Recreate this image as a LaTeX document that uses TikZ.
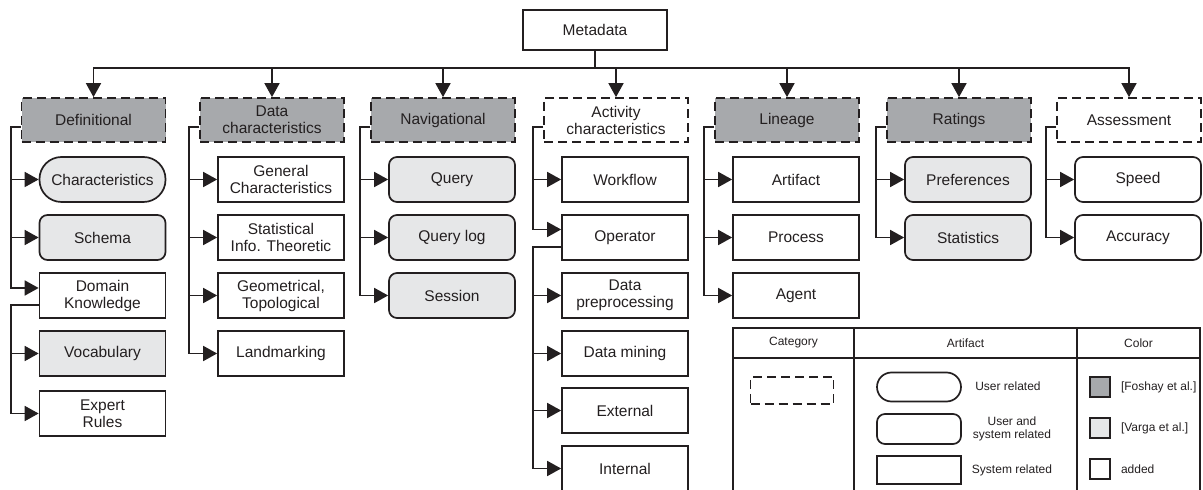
\documentclass[tikz,border=0pt]{standalone}
\usepackage{fontspec}
\setmainfont{Liberation Sans}
\usetikzlibrary{positioning,arrows.meta}
\definecolor{ink}{HTML}{231F20}
\definecolor{foshay}{HTML}{A7A9AC}
\definecolor{varga}{HTML}{E6E7E8}

\begin{document}
\begin{tikzpicture}[color=ink, line width=1.7pt, >={Triangle[length=14pt,width=15pt]},
  every node/.style={align=center,font=\fontsize{15.5}{17}\selectfont},
  box/.style={draw=ink,minimum width=126pt,minimum height=45pt,inner sep=2pt},
  catbox/.style={box,dash pattern=on 9pt off 5pt,minimum width=144pt,minimum height=44pt},
  userbox/.style={box,rounded corners=22pt},
  mixbox/.style={box,rounded corners=8pt},
  small/.style={font=\fontsize{12}{13.5}\selectfont}]
\useasboundingbox (0,0) rectangle (1203pt,490pt);
\clip (0,0) rectangle (1203pt,490pt);

\node[box,minimum width=144pt,minimum height=40pt] (meta) at (595pt,460pt) {Metadata};
\node[catbox,fill=foshay] (defn) at (93.5pt,370pt) {Definitional};
\node[catbox,fill=foshay,right=32.8pt of defn] (datach) {Data\\characteristics};
\node[catbox,fill=foshay,right=25.3pt of datach] (nav) {Navigational};
\node[catbox,right=27.3pt of nav] (activity) {Activity\\characteristics};
\node[catbox,fill=foshay,right=25.3pt of activity] (lineage) {Lineage};
\node[catbox,fill=foshay,right=26.3pt of lineage] (ratings) {Ratings};
\node[catbox,right=24.3pt of ratings] (assess) {Assessment};

\node[userbox,fill=varga,below left=13.3pt and 0pt of defn.south east] (charac) {Characteristics};
\node[mixbox,fill=varga,below=11.3pt of charac] (schema) {Schema};
\node[box,below=11.3pt of schema] (domain) {Domain\\Knowledge};
\node[box,fill=varga,below=11.3pt of domain] (vocab) {Vocabulary};
\node[box,below=13.3pt of vocab] (expert) {Expert\\Rules};

\node[box,below left=13.3pt and 0pt of datach.south east] (general) {General\\Characteristics};
\node[box,below=11.3pt of general] (statinfo) {Statistical\\Info. Theoretic};
\node[box,below=11.3pt of statinfo] (geom) {Geometrical,\\Topological};
\node[box,below=11.3pt of geom] (landmark) {Landmarking};

\node[mixbox,fill=varga,below left=13.3pt and 0pt of nav.south east] (query) {Query};
\node[mixbox,fill=varga,below=11.3pt of query] (qlog) {Query log};
\node[mixbox,fill=varga,below=11.3pt of qlog] (session) {Session};

\node[box,below left=13.3pt and 0pt of activity.south east] (workflow) {Workflow};
\node[box,below=11.3pt of workflow] (operator) {Operator};
\node[box,below=11.3pt of operator] (dataprep) {Data\\preprocessing};
\node[box,below=11.3pt of dataprep] (datamin) {Data mining};
\node[box,below=10.3pt of datamin] (external) {External};
\node[box,below=11.3pt of external] (internal) {Internal};

\node[box,below left=13.3pt and 0pt of lineage.south east] (artifact) {Artifact};
\node[box,below=11.3pt of artifact] (process) {Process};
\node[box,below=11.3pt of process] (agent) {Agent};

\node[mixbox,fill=varga,below left=13.3pt and 0pt of ratings.south east] (prefs) {Preferences};
\node[mixbox,fill=varga,below=11.3pt of prefs] (stats) {Statistics};

\node[mixbox,below left=13.3pt and 0pt of assess.south east] (speed) {Speed};
\node[mixbox,below=11.3pt of speed] (accuracy) {Accuracy};

\draw (meta.south) -- ++(0,-17pt) coordinate (bus);
\foreach \c in {defn,datach,nav,activity,lineage,ratings,assess} \draw[->] (bus) -| (\c.north);

\foreach \k in {charac,schema} \draw[->] ([yshift=-7pt]defn.west) -- ++(-10pt,0) |- (\k);
\draw[->] ([yshift=-7pt]defn.west) -- ++(-10pt,0) |- ([yshift=7.5pt]domain.west);
\foreach \k in {vocab,expert} \draw[->] ([yshift=-9.5pt]domain.west) -- ++(-28pt,0) |- (\k);
\foreach \k in {general,statinfo,geom,landmark} \draw[->] ([yshift=-7pt]datach.west) -- ++(-10pt,0) |- (\k);
\foreach \k in {query,qlog,session} \draw[->] ([yshift=-7pt]nav.west) -- ++(-10pt,0) |- (\k);
\draw[->] ([yshift=-7pt]activity.west) -- ++(-10pt,0) |- (workflow);
\draw[->] ([yshift=-7pt]activity.west) -- ++(-10pt,0) |- ([yshift=8pt]operator.west);
\foreach \k in {dataprep,datamin,external,internal} \draw[->] ([yshift=-9.5pt]operator.west) -- ++(-28pt,0) |- (\k);
\foreach \k in {artifact,process,agent} \draw[->] ([yshift=-7pt]lineage.west) -- ++(-10pt,0) |- (\k);
\foreach \k in {prefs,stats} \draw[->] ([yshift=-7pt]ratings.west) -- ++(-10pt,0) |- (\k);
\foreach \k in {speed,accuracy} \draw[->] ([yshift=-7pt]assess.west) -- ++(-10pt,0) |- (\k);

\draw (733pt,-5pt) |- (1200pt,162pt) -- (1200pt,-5pt);
\draw (733pt,132pt) -- (1200pt,132pt) (854pt,162pt) -- (854pt,-5pt) (1077pt,162pt) -- (1077pt,-5pt);
\node[small] (hcat) at (793.5pt,147pt) {Category};
\node[small] (hart) at (965.5pt,147pt) {Artifact};
\node[small] (hcol) at (1138.5pt,147pt) {Color};
\node[catbox,minimum width=83pt,minimum height=27pt] (lcat) at (792pt,99.5pt) {};
\node[userbox,rounded corners=14.5pt,minimum width=84pt,minimum height=29pt] (luser) at (919pt,103pt) {};
\node[mixbox,minimum width=84pt,minimum height=30pt] (lmix) at (919pt,61pt) {};
\node[box,minimum width=84pt,minimum height=28pt] (lsys) at (919pt,20pt) {};
\node[small] (tuser) at (1008pt,104pt) {User related};
\node[small] (tmix) at (1012pt,61pt) {User and\\system related};
\node[small] (tsys) at (1012pt,20pt) {System related};
\node[box,fill=foshay,minimum size=20pt] (cfos) at (1100pt,103pt) {};
\node[box,fill=varga,minimum size=20pt] (cvar) at (1100pt,62pt) {};
\node[box,minimum size=20pt] (cadd) at (1100pt,21pt) {};
\node[small,right=6pt of cfos] (tfos) {[Foshay et al.]};
\node[small,right=6pt of cvar] (tvar) {[Varga et al.]};
\node[small,right=6pt of cadd] (tadd) {added};
\end{tikzpicture}
\end{document}
